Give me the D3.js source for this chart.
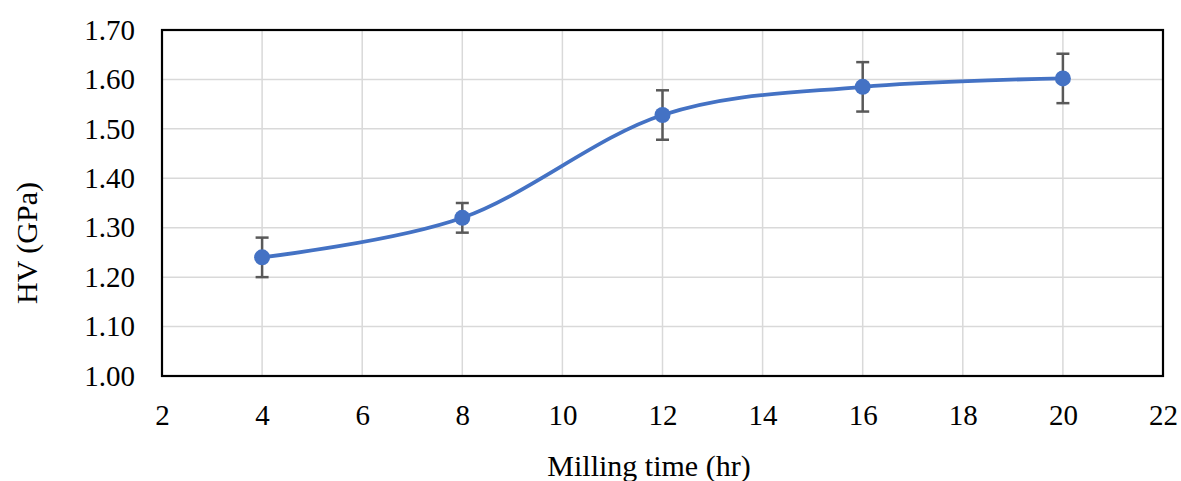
<!DOCTYPE html>
<html>
<head>
<meta charset="utf-8">
<script src="https://cdn.jsdelivr.net/npm/d3@7"></script>
<style>
  html, body { margin: 0; padding: 0; background: #fff; }
  svg { display: block; }
  text { font-family: "Liberation Serif", "Times New Roman", serif; fill: #000; }
</style>
</head>
<body>
<svg id="chart" width="1181" height="481"></svg>
<script>
// Milling time (hr) vs Vickers hardness (GPa)
const millingTime = [4, 8, 12, 16, 20];
const hardness = [1.24, 1.32, 1.528, 1.585, 1.602];
const errorBar = [0.04, 0.03, 0.05, 0.05, 0.05];
const xTicks = [2, 4, 6, 8, 10, 12, 14, 16, 18, 20, 22];
const yTicks = [1.0, 1.1, 1.2, 1.3, 1.4, 1.5, 1.6, 1.7];

const svg = d3.select("#chart");
const plotL = 162, plotR = 1163, plotT = 30, plotB = 376;

const x = d3.scaleLinear().domain([2, 22]).range([plotL, plotR]);
const y = d3.scaleLinear().domain([1.0, 1.7]).range([plotB, plotT]);

// gridlines
svg.append("g")
  .selectAll("line")
  .data(xTicks.slice(1, -1))
  .join("line")
  .attr("x1", d => x(d)).attr("x2", d => x(d))
  .attr("y1", plotT).attr("y2", plotB)
  .attr("stroke", "#d9d9d9").attr("stroke-width", 1.5);

svg.append("g")
  .selectAll("line")
  .data(yTicks.slice(1, -1))
  .join("line")
  .attr("x1", plotL).attr("x2", plotR)
  .attr("y1", d => y(d)).attr("y2", d => y(d))
  .attr("stroke", "#d9d9d9").attr("stroke-width", 1.5);

// plot frame
svg.append("rect")
  .attr("x", plotL).attr("y", plotT)
  .attr("width", plotR - plotL).attr("height", plotB - plotT)
  .attr("fill", "none").attr("stroke", "#000").attr("stroke-width", 2.2);

// axes (labels only)
const xAxis = svg.append("g")
  .attr("transform", `translate(0,${plotB})`)
  .call(d3.axisBottom(x).tickValues(xTicks).tickSize(0).tickPadding(28).tickFormat(d3.format("d")));
xAxis.select(".domain").remove();
xAxis.selectAll("text").style("font-size", "29px").style("font-family", "Liberation Serif").attr("fill", "#000");

const yAxis = svg.append("g")
  .attr("transform", `translate(${plotL},0)`)
  .call(d3.axisLeft(y).tickValues(yTicks).tickSize(0).tickPadding(27).tickFormat(d3.format(".2f")));
yAxis.select(".domain").remove();
yAxis.selectAll("text").style("font-size", "29px").style("font-family", "Liberation Serif").attr("fill", "#000");

// axis titles
svg.append("text")
  .attr("x", 649).attr("y", 476)
  .attr("text-anchor", "middle")
  .style("font-size", "30px")
  .text("Milling time (hr)");

svg.append("text")
  .attr("transform", "translate(37,243) rotate(-90)")
  .attr("text-anchor", "middle")
  .style("font-size", "30px")
  .text("HV (GPa)");

const pts = millingTime.map((t, i) => ({ t, v: hardness[i], e: errorBar[i] }));

// smoothed series line
const line = d3.line()
  .x(d => x(d.t)).y(d => y(d.v))
  .curve(d3.curveCardinal.tension(0));

svg.append("path")
  .datum(pts)
  .attr("d", line)
  .attr("fill", "none")
  .attr("stroke", "#4472c4")
  .attr("stroke-width", 3.8);

// error bars
const eb = svg.append("g").attr("stroke", "#595959").attr("stroke-width", 2.5);
eb.selectAll("line.v").data(pts).join("line").attr("class", "v")
  .attr("x1", d => x(d.t)).attr("x2", d => x(d.t))
  .attr("y1", d => y(d.v + d.e)).attr("y2", d => y(d.v - d.e));
eb.selectAll("line.top").data(pts).join("line").attr("class", "top")
  .attr("x1", d => x(d.t) - 6.5).attr("x2", d => x(d.t) + 6.5)
  .attr("y1", d => y(d.v + d.e)).attr("y2", d => y(d.v + d.e));
eb.selectAll("line.bot").data(pts).join("line").attr("class", "bot")
  .attr("x1", d => x(d.t) - 6.5).attr("x2", d => x(d.t) + 6.5)
  .attr("y1", d => y(d.v - d.e)).attr("y2", d => y(d.v - d.e));

// markers
svg.append("g").selectAll("circle").data(pts).join("circle")
  .attr("cx", d => x(d.t)).attr("cy", d => y(d.v))
  .attr("r", 8)
  .attr("fill", "#4472c4");
</script>
</body>
</html>
